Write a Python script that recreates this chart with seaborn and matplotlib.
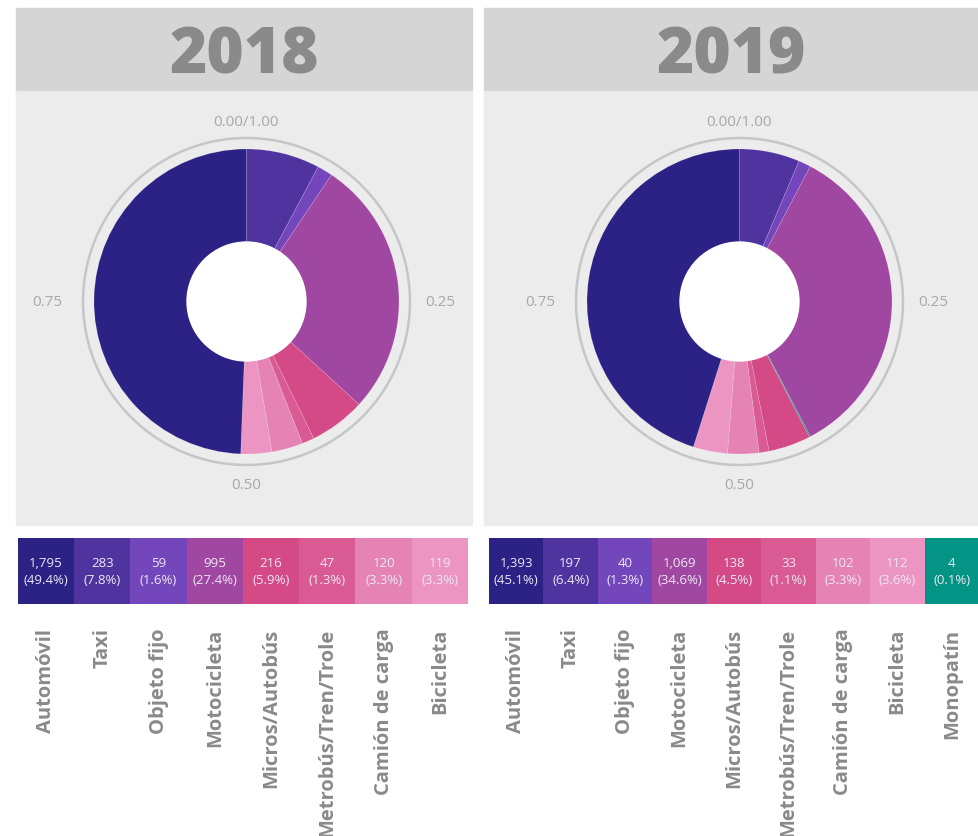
import numpy as np
import seaborn as sns
import matplotlib.pyplot as plt
from matplotlib.colors import ListedColormap
from matplotlib.patches import Rectangle, Circle

# Data
categories_2018 = ['Automóvil', 'Taxi', 'Objeto fijo', 'Motocicleta', 'Micros/Autobús',
                   'Metrobús/Tren/Trole', 'Camión de carga', 'Bicicleta']
counts_2018 = [1795, 283, 59, 995, 216, 47, 120, 119]
categories_2019 = categories_2018 + ['Monopatín']
counts_2019 = [1393, 197, 40, 1069, 138, 33, 102, 112, 4]

# clockwise order of slices in the donut, starting at the top
pie_order_2018 = ['Taxi', 'Objeto fijo', 'Motocicleta', 'Micros/Autobús',
                  'Metrobús/Tren/Trole', 'Camión de carga', 'Bicicleta', 'Automóvil']
pie_order_2019 = ['Taxi', 'Objeto fijo', 'Motocicleta', 'Monopatín', 'Micros/Autobús',
                  'Metrobús/Tren/Trole', 'Camión de carga', 'Bicicleta', 'Automóvil']

palette = {
    'Automóvil': '#2c2185', 'Taxi': '#4f34a0', 'Objeto fijo': '#7446bc',
    'Motocicleta': '#a047a1', 'Micros/Autobús': '#d34a86',
    'Metrobús/Tren/Trole': '#da5a93', 'Camión de carga': '#e683b5',
    'Bicicleta': '#ec95c3', 'Monopatín': '#049485',
}
tick_labels = ['0.00/1.00', '0.25', '0.50', '0.75']

W, H = 979, 837
plt.rcParams['font.family'] = ['Open Sans', 'DejaVu Sans']
fig = plt.figure(figsize=(W / 100, H / 100), dpi=100)
fig.patch.set_facecolor('white')


def box(x0, y0, x1, y1):
    return [x0 / W, 1 - y1 / H, (x1 - x0) / W, (y1 - y0) / H]


def panel(year, cats, counts, order, x0, x1, strip_x0, strip_x1, cx):
    # header + body backgrounds
    fig.add_artist(Rectangle((x0 / W, 1 - 92 / H), (x1 - x0) / W, 83 / H,
                             transform=fig.transFigure, color='#d4d5d4', zorder=0))
    fig.add_artist(Rectangle((x0 / W, 1 - 526 / H), (x1 - x0) / W, 434 / H,
                             transform=fig.transFigure, color='#ececec', zorder=0))
    fig.text((x0 + x1) / 2 / W, 1 - 57 / H, year, ha='center', va='center',
             fontsize=46, fontweight=800, color='#8a8a8a')

    # donut
    cy, r = 302.5, 152.5
    L = 1.5
    ax = fig.add_axes(box(cx - L * r, cy - L * r, cx + L * r, cy + L * r))
    ax.set_facecolor('none')
    lookup = dict(zip(cats, counts))
    vals = [lookup[c] for c in order]
    ax.pie(vals, colors=[palette[c] for c in order], startangle=90, counterclock=False,
           radius=1, wedgeprops=dict(edgecolor=(1, 1, 1, 0.18), linewidth=0.5))
    ax.add_patch(Circle((0, 0), 0.39, color='white', zorder=5))
    ax.add_patch(Circle((0, 0), 1.072, fill=False, ec='#c4c7c7', lw=1.8, zorder=4))
    tk = dict(fontsize=11, color='#a8a8a8')
    ax.text(0, 1.13, tick_labels[0], ha='center', va='bottom', **tk)
    ax.text(1.17, 0, tick_labels[1], ha='left', va='center', **tk)
    ax.text(0, -1.15, tick_labels[2], ha='center', va='top', **tk)
    ax.text(-1.21, 0, tick_labels[3], ha='right', va='center', **tk)
    ax.set_xlim(-L, L)
    ax.set_ylim(-L, L)
    ax.set_aspect('equal')
    ax.axis('off')

    # value strip
    total = sum(counts)
    annot = np.array([[f'{v:,}\n({v / total * 100:.1f}%)' for v in counts]])
    sax = fig.add_axes(box(strip_x0, 539, strip_x1, 605))
    sns.heatmap(np.arange(len(cats))[None, :], ax=sax, cmap=ListedColormap([palette[c] for c in cats]),
                cbar=False, annot=annot, fmt='',
                annot_kws=dict(fontsize=9.5, color='#ece8f4', linespacing=1.4),
                xticklabels=cats, yticklabels=False)
    sax.tick_params(axis='x', length=0, pad=17)
    sax.set_xticklabels(cats, rotation=90, fontsize=14.5, fontweight='bold', color='#8a8a8a')


panel('2018', categories_2018, counts_2018, pie_order_2018, 16, 472, 18, 468, 246.5)
panel('2019', categories_2019, counts_2019, pie_order_2019, 484, 979, 489, 979, 739.5)

plt.savefig('out.png', dpi=100)
